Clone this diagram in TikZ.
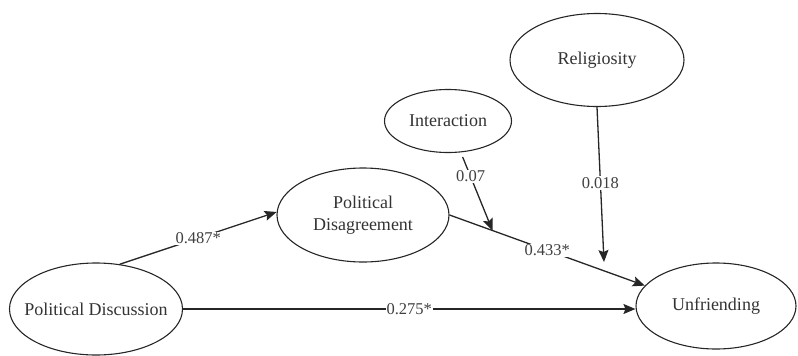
\documentclass[tikz,border=0pt]{standalone}
\usepackage{fontspec}
\setmainfont{Liberation Serif}
\usetikzlibrary{shapes.geometric,arrows.meta}
\begin{document}
\begin{tikzpicture}[x=1pt,y=-1pt,
  var/.style={draw=black!85,line width=1.1pt,ellipse,inner sep=0pt,text=black!80,
    font=\fontsize{18}{22}\selectfont,align=center},
  path/.style={draw=black!85,line width=1.3pt,-{Stealth[length=12pt,width=10pt,inset=2pt]}},
  coef/.style={fill=white,inner sep=1pt,text=black!75,font=\fontsize{16.5}{19}\selectfont}]
\useasboundingbox (0,0) rectangle (798,356);
\node[var,minimum width=173pt,minimum height=92pt] (pd) at (96,309) {\makebox[0pt]{Political Discussion}};
\node[var,minimum width=172pt,minimum height=94pt] (pdis) at (363,215) {Political\\Disagreement};
\node[var,minimum width=127pt,minimum height=63pt] (int) at (448,121) {Interaction};
\node[var,minimum width=174pt,minimum height=93pt] (rel) at (597,60) {Religiosity};
\node[var,minimum width=160pt,minimum height=86pt] (unf) at (716,306) {Unfriending};
\coordinate (rt) at (604,262);
\draw[path] (pd.62) -- node[coef,pos=0.5]{0.487*} (pdis.178);
\draw[path] (pd.east) -- node[coef,pos=0.5]{0.275*} (pd.east -| unf.west);
\draw[path] (pdis.east) -- coordinate[pos=0.22] (m) node[coef,pos=0.5]{0.433*} (unf.164);
\draw[path,shorten <=5pt] (int) -- node[coef,pos=0.31]{0.07} (m);
\draw[path] (rel.south) -- node[coef,pos=0.49]{0.018} (rt);
\end{tikzpicture}
\end{document}
